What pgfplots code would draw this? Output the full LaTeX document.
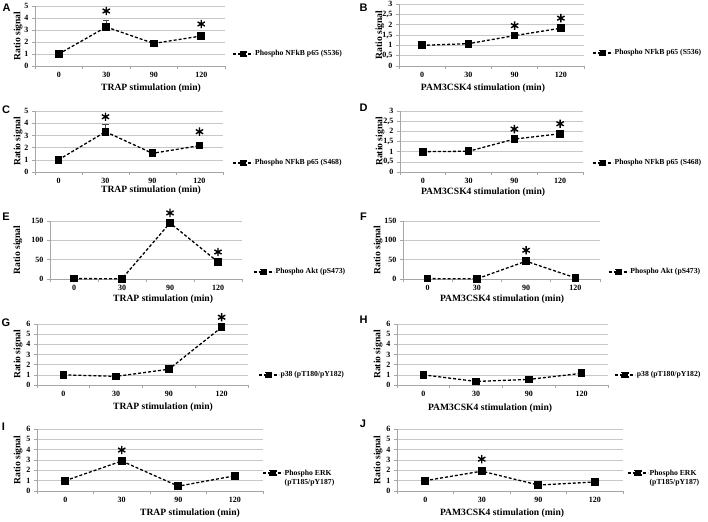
\documentclass[border=0pt]{standalone}
\usepackage{fontspec}
\setmainfont{Liberation Serif}
\newfontfamily\arial{Liberation Sans}
\usepackage{pgfplots}
\pgfplotsset{compat=1.18}

\pgfplotsset{
 legend image code/.code={%
   \draw[black, line width=1.2pt, dash pattern=on 3pt off 2pt] (0pt,0pt) -- (20pt,0pt);
   \fill[black] (7pt,-2.6pt) rectangle (13pt,2.6pt);},
 panel/.style={
  scale only axis, anchor=south west, clip=false,
  xmin=-0.5, xmax=3.5, ymin=0,
  xtick={0,1,2,3}, xticklabels={0,30,90,120},
  minor xtick={-0.5,0.5,1.5,2.5,3.5},
  tick align=outside, major tick length=3pt, minor tick length=3pt,
  axis lines*=left,
  axis line style={draw=black!35, line width=0.7pt},
  every tick/.style={black!35, line width=0.6pt},
  major x tick style={draw=none},
  ymajorgrids, grid style={black!22, line width=0.6pt},
  /pgf/number format/assume math mode=true,
  tick label style={font=\fontsize{8}{9}\selectfont\bfseries},
  label style={font=\fontsize{9.6}{10}\selectfont\bfseries},
  ylabel={Ratio signal},
  legend style={draw=none, fill=none, anchor=west, inner sep=0pt,
    font=\fontsize{7.7}{9.3}\selectfont\bfseries, legend cell align=left,
    nodes={inner xsep=1.2pt}},
 },
 dat/.style={black, dash pattern=on 3pt off 2pt, line width=1.3pt, mark=square*, mark size=3.2pt, mark options={solid},
   error bars/.cd, y dir=plus, y explicit, error bar style={solid, line width=0.6pt, black!70}},
 star/.style={only marks, mark=asterisk, mark size=4.2pt, black, line width=1.4pt, mark options={yshift=#1}, forget plot},
 star/.default=11pt,
}

\begin{document}
\begin{tikzpicture}
\useasboundingbox (0pt,0pt) rectangle (708pt,-521pt);

% ---------- A ----------
\begin{axis}[panel, at={(35pt,-66pt)}, width=190pt, height=60pt, ymax=5, ytick={0,1,...,5},
  xlabel={TRAP stimulation (min)},
  ylabel style={at={(axis description cs:-0.0895,0.5)}, anchor=center},
  xlabel style={at={(axis description cs:0.611,-0.367)}, anchor=center},
  legend style={at={(axis description cs:1.040,0.2)}}]
\addplot[dat] coordinates {(0,1) +- (0,0) (1,3.25) +- (0,0.6) (2,1.88) +- (0,0.08) (3,2.5) +- (0,0.1)};
\addlegendentry{Phospho NFkB p65 (S536)}
\addplot[star=16pt] coordinates {(1,3.25)};
\addplot[star=12pt] coordinates {(3,2.5)};
\end{axis}

% ---------- B ----------
\begin{axis}[panel, at={(399pt,-66pt)}, width=185pt, height=62pt, ymax=3, ytick={0,0.5,...,3},
  yticklabel style={/pgf/number format/use comma},
  xlabel={PAM3CSK4 stimulation (min)},
  ylabel style={at={(axis description cs:-0.103,0.5)}, anchor=center},
  xlabel style={at={(axis description cs:0.454,-0.355)}, anchor=center},
  legend style={at={(axis description cs:1.043,0.21)}}]
\addplot[dat] coordinates {(0,1) +- (0,0) (1,1.08) +- (0,0) (2,1.47) +- (0,0) (3,1.83) +- (0,0)};
\addlegendentry{Phospho NFkB p65 (S536)}
\addplot[star=10pt] coordinates {(2,1.47) (3,1.83)};
\end{axis}

% ---------- C ----------
\begin{axis}[panel, at={(35pt,-172pt)}, width=188pt, height=61pt, ymax=5, ytick={0,1,...,5},
  xlabel={TRAP stimulation (min)},
  ylabel style={at={(axis description cs:-0.090,0.5)}, anchor=center},
  xlabel style={at={(axis description cs:0.617,-0.295)}, anchor=center},
  legend style={at={(axis description cs:1.050,0.148)}}]
\addplot[dat] coordinates {(0,1) +- (0,0) (1,3.3) +- (0,0.6) (2,1.53) +- (0,0.15) (3,2.16) +- (0,0.25)};
\addlegendentry{Phospho NFkB p65 (S468)}
\addplot[star=15pt] coordinates {(1,3.3)};
\addplot[star=14pt] coordinates {(3,2.16)};
\end{axis}

% ---------- D ----------
\begin{axis}[panel, at={(400pt,-172pt)}, width=183pt, height=61pt, ymax=3, ytick={0,0.5,...,3},
  yticklabel style={/pgf/number format/use comma},
  xlabel={PAM3CSK4 stimulation (min)},
  ylabel style={at={(axis description cs:-0.109,0.5)}, anchor=center},
  xlabel style={at={(axis description cs:0.454,-0.328)}, anchor=center},
  legend style={at={(axis description cs:1.049,0.148)}}]
\addplot[dat] coordinates {(0,1) +- (0,0) (1,1.02) +- (0,0) (2,1.62) +- (0,0) (3,1.88) +- (0,0)};
\addlegendentry{Phospho NFkB p65 (S468)}
\addplot[star=10pt] coordinates {(2,1.62) (3,1.88)};
\end{axis}

% ---------- E ----------
\begin{axis}[panel, at={(50pt,-279pt)}, width=192pt, height=58pt, ymax=150, ytick={0,50,100,150},
  xlabel={TRAP stimulation (min)},
  ylabel style={at={(axis description cs:-0.167,0.5)}, anchor=center},
  xlabel style={at={(axis description cs:0.589,-0.345)}, anchor=center},
  legend style={at={(axis description cs:1.057,0.121)}}]
\addplot[dat] coordinates {(0,1) +- (0,0) (1,0.8) +- (0,0) (2,145) +- (0,0) (3,44) +- (0,0)};
\addlegendentry{Phospho Akt (pS473)}
\addplot[star=10pt] coordinates {(2,145) (3,44)};
\end{axis}

% ---------- F ----------
\begin{axis}[panel, at={(403pt,-279pt)}, width=197pt, height=58pt, ymax=150, ytick={0,50,100,150},
  xlabel={PAM3CSK4 stimulation (min)},
  ylabel style={at={(axis description cs:-0.127,0.5)}, anchor=center},
  xlabel style={at={(axis description cs:0.503,-0.345)}, anchor=center},
  legend style={at={(axis description cs:1.040,0.121)}}]
\addplot[dat] coordinates {(0,1) +- (0,0) (1,0.5) +- (0,0) (2,46) +- (0,0) (3,3) +- (0,0)};
\addlegendentry{Phospho Akt (pS473)}
\addplot[star=11pt] coordinates {(2,46)};
\end{axis}

% ---------- G ----------
\begin{axis}[panel, at={(37pt,-385pt)}, width=211pt, height=61pt, ymax=6, ytick={0,1,...,6},
  xlabel={TRAP stimulation (min)},
  ylabel style={at={(axis description cs:-0.090,0.5)}, anchor=center},
  xlabel style={at={(axis description cs:0.597,-0.361)}, anchor=center},
  legend style={at={(axis description cs:1.047,0.164)}}]
\addplot[dat] coordinates {(0,1) +- (0,0) (1,0.85) +- (0,0) (2,1.55) +- (0,0) (3,5.68) +- (0,0)};
\addlegendentry{p38 (pT180/pY182)}
\addplot[star=10pt] coordinates {(3,5.68)};
\end{axis}

% ---------- H ----------
\begin{axis}[panel, at={(397pt,-385pt)}, width=211pt, height=61pt, ymax=6, ytick={0,1,...,6},
  xlabel={PAM3CSK4 stimulation (min)},
  ylabel style={at={(axis description cs:-0.090,0.5)}, anchor=center},
  xlabel style={at={(axis description cs:0.441,-0.377)}, anchor=center},
  legend style={at={(axis description cs:1.030,0.164)}}]
\addplot[dat] coordinates {(0,1) +- (0,0) (1,0.35) +- (0,0) (2,0.55) +- (0,0) (3,1.15) +- (0,0)};
\addlegendentry{p38 (pT180/pY182)}
\end{axis}

% ---------- I ----------
\begin{axis}[panel, at={(37pt,-491pt)}, width=226pt, height=62pt, ymax=6, ytick={0,1,...,6},
  xlabel={TRAP stimulation (min)},
  ylabel style={at={(axis description cs:-0.084,0.5)}, anchor=center},
  xlabel style={at={(axis description cs:0.677,-0.355)}, anchor=center},
  legend style={at={(axis description cs:0.996,0.29)}}]
\addplot[dat] coordinates {(0,1) +- (0,0) (1,2.9) +- (0,0) (2,0.47) +- (0,0) (3,1.47) +- (0,0)};
\addlegendentry{\begin{tabular}[t]{@{}l@{}}Phospho ERK\\(pT185/pY187)\end{tabular}}
\addplot[star=11pt] coordinates {(1,2.9)};
\end{axis}

% ---------- J ----------
\begin{axis}[panel, at={(397pt,-491pt)}, width=226pt, height=62pt, ymax=6, ytick={0,1,...,6},
  xlabel={PAM3CSK4 stimulation (min)},
  ylabel style={at={(axis description cs:-0.084,0.5)}, anchor=center},
  xlabel style={at={(axis description cs:0.465,-0.355)}, anchor=center},
  legend style={at={(axis description cs:1.018,0.29)}}]
\addplot[dat] coordinates {(0,1) +- (0,0) (1,1.92) +- (0,0) (2,0.58) +- (0,0) (3,0.87) +- (0,0)};
\addlegendentry{\begin{tabular}[t]{@{}l@{}}Phospho ERK\\(pT185/pY187)\end{tabular}}
\addplot[star=12pt] coordinates {(1,1.92)};
\end{axis}

% panel letters
\begin{scope}[every node/.style={font=\arial\bfseries\fontsize{11}{11}\selectfont, inner sep=0pt}]
\node at (6.5pt,-7.5pt) {A};
\node at (363.5pt,-7.5pt) {B};
\node at (6pt,-110pt) {C};
\node at (363.5pt,-108pt) {D};
\node at (6pt,-217pt) {E};
\node at (363.5pt,-217pt) {F};
\node at (6pt,-323pt) {G};
\node at (363.5pt,-320pt) {H};
\node at (3.5pt,-427pt) {I};
\node at (363pt,-424pt) {J};
\end{scope}
\end{tikzpicture}
\end{document}
